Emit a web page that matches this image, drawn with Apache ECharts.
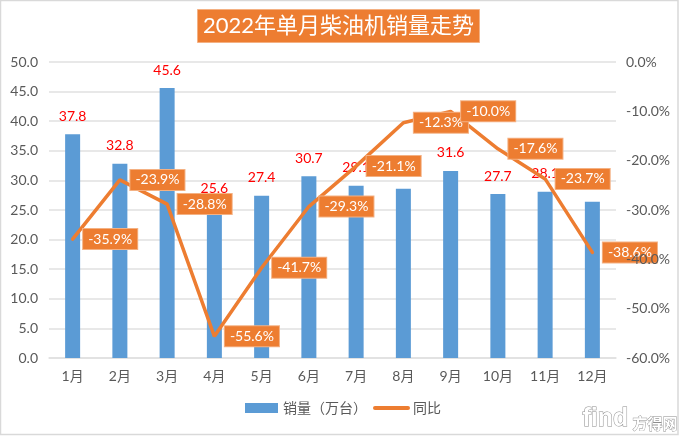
<!DOCTYPE html>
<html>
<head>
    <meta charset="utf-8" />
    <title>2022年单月柴油机销量走势</title>
    <script src="https://cdn.jsdelivr.net/npm/echarts@6/dist/echarts.min.js"></script>
    <style>
        html, body { margin: 0; padding: 0; background: #fff; }
        #chart { width: 680px; height: 436px; }
    </style>
</head>
<body>
    <div id="chart"></div>
    <script>
        var months = ['1月', '2月', '3月', '4月', '5月', '6月', '7月', '8月', '9月', '10月', '11月', '12月'];
        var sales = [37.8, 32.8, 45.6, 25.6, 27.4, 30.7, 29.1, 28.6, 31.6, 27.7, 28.1, 26.4];
        var yoy = [-35.9, -23.9, -28.8, -55.6, -41.7, -29.3, -21.1, -12.3, -10.0, -17.6, -23.7, -38.6];

        var font = 'Lato, "Noto Sans CJK SC", sans-serif';
        var orange = '#ED7D31';
        var grey = '#595959';
        var gridLine = '#E0E0E0';

        var myChart = echarts.init(document.getElementById('chart'));
        var option = {
            animation: false,
            textStyle: { fontFamily: font },
            title: {
                text: '2022年单月柴油机销量走势',
                left: 197,
                top: 9,
                padding: [4, 6, 4, 6],
                backgroundColor: orange,
                borderColor: '#F4B183',
                borderWidth: 1,
                textStyle: { color: '#fff', fontSize: 22, fontWeight: 'normal', fontFamily: font, lineHeight: 26 }
            },
            legend: {
                bottom: 16,
                left: 240,
                itemWidth: 33,
                itemHeight: 10,
                itemGap: 6,
                lineStyle: { width: 4, cap: 'round' },
                textStyle: { color: grey, fontSize: 14, fontFamily: font },
                data: [
                    { name: '销量（万台）', icon: 'rect' },
                    // symbols only exist so the labels draw, hide the dot in the legend
                    { name: '同比', itemStyle: { opacity: 0 } }
                ]
            },
            grid: { left: 49, right: 64, top: 62, bottom: 78 },
            xAxis: {
                type: 'category',
                data: months,
                axisTick: { show: false },
                axisLine: { lineStyle: { color: gridLine, width: 1.5 } },
                axisLabel: { color: grey, fontSize: 14, margin: 11 }
            },
            yAxis: [
                {
                    type: 'value',
                    min: 0,
                    max: 50,
                    interval: 5,
                    axisLine: { show: false },
                    axisTick: { show: false },
                    axisLabel: {
                        color: grey, fontSize: 14, margin: 11,
                        formatter: function (v) { return v.toFixed(1); }
                    },
                    splitLine: { lineStyle: { color: gridLine, width: 1.5 } }
                },
                {
                    type: 'value',
                    min: -60,
                    max: 0,
                    interval: 10,
                    position: 'right',
                    z: 6,
                    axisLine: { show: false },
                    axisTick: { show: false },
                    axisLabel: {
                        color: grey, fontSize: 14, margin: 10,
                        formatter: function (v) { return v.toFixed(1) + '%'; }
                    },
                    splitLine: { show: false }
                }
            ],
            series: [
                {
                    name: '销量（万台）',
                    type: 'bar',
                    barWidth: 15,
                    data: sales,
                    itemStyle: { color: '#5B9BD5' },
                    label: {
                        show: true,
                        position: 'top',
                        distance: 11,
                        color: '#FF0000',
                        fontSize: 14,
                        formatter: function (p) { return p.value.toFixed(1); }
                    }
                },
                {
                    name: '同比',
                    type: 'line',
                    yAxisIndex: 1,
                    z: 5,
                    data: yoy,
                    symbol: 'circle',
                    symbolSize: 1,
                    lineStyle: { color: orange, width: 3.5, cap: 'round' },
                    itemStyle: { color: orange },
                    label: {
                        show: true,
                        position: 'right',
                        distance: 10,
                        color: '#fff',
                        fontSize: 14,
                        backgroundColor: orange,
                        borderColor: '#F4B183',
                        borderWidth: 1,
                        padding: [3, 5, 3, 5],
                        formatter: function (p) { return p.value.toFixed(1) + '%'; }
                    }
                }
            ],
            graphic: [
                {
                    type: 'rect', silent: true, z: 100,
                    shape: { x: 0.5, y: 0.5, width: 677.5, height: 434 },
                    style: { fill: 'none', stroke: '#D9D9D9', lineWidth: 1.5 }
                },
                {
                    type: 'text', silent: true, z: 100, left: 582, top: 406,
                    style: {
                        text: 'find',
                        fill: '#fff', stroke: '#8c8c8c', lineWidth: 1,
                        font: 'bold 25px "Liberation Sans"'
                    }
                },
                {
                    type: 'text', silent: true, z: 100, left: 632, top: 415,
                    style: {
                        text: '方得网',
                        fill: '#fff', stroke: '#8c8c8c', lineWidth: 0.8,
                        font: 'bold 15px "Noto Sans CJK SC"'
                    }
                }
            ]
        };
        myChart.setOption(option);
    </script>
</body>
</html>
